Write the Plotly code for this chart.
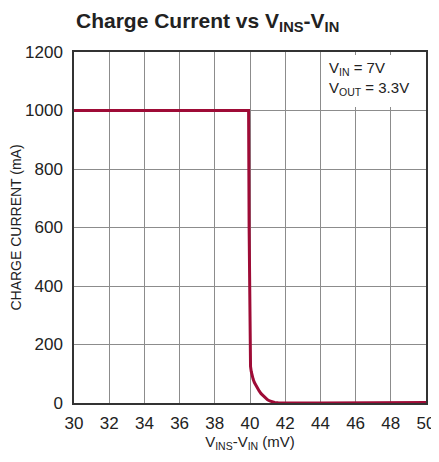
import plotly.graph_objects as go

# curve
x_mv = [30, 39.92, 39.95, 39.98, 40.0, 40.03, 40.07, 40.12, 40.18, 40.25, 40.33, 40.42,
        40.52, 40.63, 40.75, 40.88, 41.0, 41.12, 41.25, 41.4, 41.6, 42.0, 44, 46, 48, 50]
current_ma = [1000, 1000, 600, 250, 150, 125, 108, 94, 81, 70, 60, 50,
              41, 32, 24, 17, 11, 7, 4, 2, 1, 0, 0, 0.5, 1, 2]

x_ticks = [30, 32, 34, 36, 38, 40, 42, 44, 46, 48, 50]
y_ticks = [0, 200, 400, 600, 800, 1000, 1200]

FONT = "Liberation Sans, Arial, sans-serif"
LINE = "#9e0b36"

fig = go.Figure()
fig.add_trace(go.Scatter(
    x=x_mv, y=current_ma, mode="lines",
    line=dict(color=LINE, width=3),
    showlegend=False, hoverinfo="skip", cliponaxis=False,
))

axis_common = dict(
    showgrid=True, gridcolor="#8c8c8c", gridwidth=1,
    showline=True, linecolor="#333333", linewidth=1.5, mirror=True,
    zeroline=False, ticks="", automargin=False,
    tickfont=dict(family=FONT, size=17, color="#222"),
)
fig.update_xaxes(range=[30, 50], tickvals=x_ticks, ticklabelstandoff=4, **axis_common,
                 title=dict(text="V<sub>INS</sub>-V<sub>IN</sub> (mV)",
                            font=dict(family=FONT, size=15, color="#222"), standoff=2))
fig.update_yaxes(range=[0, 1200], tickvals=y_ticks, ticklabelstandoff=6, **axis_common,
                 title=dict(text="CHARGE CURRENT (mA)",
                            font=dict(family=FONT, size=14, color="#222"), standoff=2))

# note box over the grid
fig.add_shape(type="rect", xref="x", yref="y", x0=44.1, x1=49.9, y0=1012, y1=1190,
              fillcolor="white", line=dict(width=0), layer="above")
fig.add_annotation(xref="x", yref="y", x=44.4, y=1182, xanchor="left", yanchor="top",
                   align="left", showarrow=False,
                   text="V<sub>IN</sub> = 7V<br>V<sub>OUT</sub> = 3.3V",
                   font=dict(family=FONT, size=15, color="#222"))

fig.add_annotation(xref="paper", yref="paper", x=0.38, y=1.085, xanchor="center",
                   yanchor="middle", showarrow=False,
                   text="<b>Charge Current vs V<sub>INS</sub>-V<sub>IN</sub></b>",
                   font=dict(family=FONT, size=21, color="#222"))

# page body adds an 8px offset, so the figure is sized to fit inside it
fig.update_layout(
    width=431, height=454,
    margin=dict(l=66, r=13, t=44, b=59),
    paper_bgcolor="white", plot_bgcolor="white",
)

fig.write_html("out.html")
